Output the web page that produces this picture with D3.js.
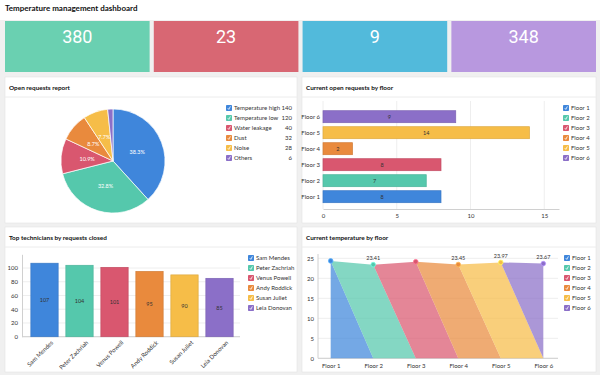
<!DOCTYPE html>
<html lang="en">
  <head>
    <meta charset="utf-8" />
    <title>Temperature management dashboard</title>
    <script src="https://cdn.jsdelivr.net/npm/d3@7"></script>
    <style type="text/css">
      body {
        margin: 0;
        background: #fff;
        font-family: Lato, "Open Sans", sans-serif;
      }
      text {
        fill: #333;
      }
      .axis path,
      .axis line {
        stroke: #d0d0d0;
      }
      .grid line {
        stroke: #eeeeee;
      }
    </style>
  </head>
  <body>
    <div id="chart"></div>
    <script type="text/javascript">
      /*******************************************
       * data
       *******************************************/
      const kpiValues = [380, 23, 9, 348];

      const pieLabels = ["Temperature high", "Temperature low", "Water leakage", "Dust", "Noise", "Others"];
      const pieValues = [140, 120, 40, 32, 28, 6];

      const floors = ["Floor 1", "Floor 2", "Floor 3", "Floor 4", "Floor 5", "Floor 6"];
      const openRequests = [8, 7, 8, 2, 14, 9];

      const technicians = ["Sam Mendes", "Peter Zachriah", "Venus Powell", "Andy Roddick", "Susan Juliet", "Leia Donovan"];
      const closedRequests = [107, 104, 101, 95, 90, 85];

      const temperatures = [24.35, 23.41, 24.15, 23.45, 23.97, 23.67];
      const labelledFloors = ["Floor 2", "Floor 4", "Floor 5", "Floor 6"];

      const hTicks = [0, 5, 10, 15];
      const vTicks = [0, 20, 40, 60, 80, 100];
      const tTicks = [0, 5, 10, 15, 20, 25];

      /*******************************************
       * svg
       *******************************************/
      const width = 600;
      const height = 375;
      const colors = ["#3f86db", "#55c8ac", "#d9576f", "#e98a3d", "#f6bd48", "#8b6fc8"];
      const kpiColors = ["#6ad0b1", "#d86773", "#52badb", "#b898df"];
      const tickFont = 6;

      const svg = d3.select("div#chart").append("svg")
        .attr("width", width)
        .attr("height", height)
        .style("display", "block");

      svg.append("rect").attr("width", width).attr("height", height).attr("fill", "#f0f0f0");
      svg.append("rect").attr("width", width).attr("height", 20).attr("fill", "#fff");

      svg.append("text")
        .attr("x", 5).attr("y", 11)
        .attr("font-size", 8).attr("font-weight", 700)
        .style("fill", "#111")
        .text("Temperature management dashboard");

      /*******************************************
       * kpi tiles
       *******************************************/
      const kpiX = d3.scaleBand().domain(d3.range(4)).range([5, 596]).paddingInner(0.028);
      const tiles = svg.selectAll("g.kpi").data(kpiValues).enter().append("g");
      tiles.append("rect")
        .attr("x", (d, i) => kpiX(i)).attr("y", 21)
        .attr("width", kpiX.bandwidth()).attr("height", 51)
        .attr("fill", (d, i) => kpiColors[i]);
      tiles.append("text")
        .attr("x", (d, i) => kpiX(i) + kpiX.bandwidth() / 2).attr("y", 43)
        .attr("text-anchor", "middle")
        .attr("font-size", 18)
        .attr("font-family", "Roboto, sans-serif")
        .style("fill", "#fff")
        .text((d) => d);

      /*******************************************
       * panels
       *******************************************/
      function panel(x, y, w, h, title) {
        const g = svg.append("g");
        g.append("rect").attr("x", x).attr("y", y).attr("width", w).attr("height", h)
          .attr("fill", "#fff").attr("stroke", "#e4e4e4").attr("stroke-width", 0.6);
        g.append("line").attr("x1", x).attr("x2", x + w).attr("y1", y + 20).attr("y2", y + 20)
          .attr("stroke", "#ececec").attr("stroke-width", 1);
        g.append("text").attr("x", x + 4).attr("y", y + 13)
          .attr("font-size", 6.4).attr("font-weight", 700).style("fill", "#111")
          .text(title);
      }
      panel(5, 77, 292, 146, "Open requests report");
      panel(302, 77, 294, 146, "Current open requests by floor");
      panel(5, 227, 292, 145, "Top technicians by requests closed");
      panel(302, 227, 294, 145, "Current temperature by floor");

      // legend with check boxes
      function legend(x, y, labels, values, valueX) {
        const g = svg.append("g");
        labels.forEach((label, i) => {
          const ly = y + i * 10;
          g.append("rect").attr("x", x).attr("y", ly - 3).attr("width", 6).attr("height", 6)
            .attr("rx", 0.8).attr("fill", colors[i]);
          g.append("path")
            .attr("d", `M${x + 1.8},${ly + 0.2} L${x + 2.8},${ly + 1.4} L${x + 4.4},${ly - 1.6}`)
            .attr("fill", "none").attr("stroke", "#fff").attr("stroke-width", 0.8);
          g.append("text").attr("x", x + 8).attr("y", ly + 2.1)
            .attr("font-size", tickFont).text(label);
          if (values) {
            g.append("text").attr("x", valueX).attr("y", ly + 2.1)
              .attr("font-size", tickFont).attr("text-anchor", "end").text(values[i]);
          }
        });
      }

      function styleTicks(g) {
        g.selectAll("text")
          .attr("font-size", tickFont)
          .attr("font-family", "Lato, sans-serif")
          .style("fill", "#333");
      }

      /*******************************************
       * pie
       *******************************************/
      const pieData = pieValues.map((v, i) => ({ label: pieLabels[i], value: v, i: i }));
      const pie = d3.pie().value((d) => d.value).sort(null);
      const radius = 52;
      const arc = d3.arc().innerRadius(0).outerRadius(radius);
      const total = d3.sum(pieValues);
      const pieG = svg.append("g").attr("transform", "translate(113, 161)");
      const arcs = pie(pieData);
      pieG.selectAll("path").data(arcs).enter().append("path")
        .attr("d", arc)
        .attr("fill", (d) => colors[d.data.i])
        .attr("stroke", "#fff").attr("stroke-width", 0.7);
      pieG.selectAll("text").data(arcs.filter((d) => d.data.value / total > 0.05)).enter().append("text")
        .attr("transform", (d) => `translate(${arc.centroid(d)})`)
        .attr("dy", 2)
        .attr("text-anchor", "middle")
        .attr("font-size", 5.5)
        .style("fill", "#fff")
        .text((d) => ((d.data.value / total) * 100).toFixed(1) + "%");

      legend(226, 108, pieLabels, pieValues, 292);

      /*******************************************
       * horizontal bars
       *******************************************/
      const hx = d3.scaleLinear().domain([0, 16]).range([323, 559]);
      const hy = d3.scaleBand().domain(floors).range([204.7, 108.7]).paddingInner(0.25).paddingOuter(0.125);

      svg.append("g").attr("class", "grid")
        .selectAll("line").data(hTicks).enter().append("line")
        .attr("x1", (d) => hx(d)).attr("x2", (d) => hx(d))
        .attr("y1", 101).attr("y2", 209);

      svg.append("g").attr("class", "axis")
        .attr("transform", "translate(0, 209)")
        .call(d3.axisBottom(hx).tickValues(hTicks).tickSize(0).tickPadding(5))
        .call(styleTicks);

      svg.append("g").attr("class", "axis")
        .attr("transform", "translate(323, 0)")
        .call(d3.axisLeft(hy).tickSize(0).tickPadding(3))
        .call((g) => g.select(".domain").remove())
        .call(styleTicks);

      const hbars = svg.append("g").selectAll("g").data(openRequests).enter().append("g");
      hbars.append("rect")
        .attr("x", hx(0))
        .attr("y", (d, i) => hy(floors[i]))
        .attr("width", (d) => hx(d) - hx(0))
        .attr("height", hy.bandwidth())
        .attr("fill", (d, i) => colors[i])
        .attr("stroke", (d, i) => d3.color(colors[i]).darker(0.3))
        .attr("stroke-width", 0.7);
      hbars.append("text")
        .attr("x", (d) => (hx(d) + hx(0)) / 2)
        .attr("y", (d, i) => hy(floors[i]) + hy.bandwidth() / 2 + 2)
        .attr("text-anchor", "middle")
        .attr("font-size", 5.5)
        .text((d) => d);

      legend(563, 108, floors);

      /*******************************************
       * vertical bars
       *******************************************/
      const vx = d3.scaleBand().domain(technicians).range([27, 237]).paddingInner(0.22).paddingOuter(0.11);
      const vy = d3.scaleLinear().domain([0, 120]).range([336.7, 254.3]);

      svg.append("g").attr("class", "grid")
        .selectAll("line").data(vTicks).enter().append("line")
        .attr("x1", 22).attr("x2", 240)
        .attr("y1", (d) => vy(d)).attr("y2", (d) => vy(d));

      svg.append("g").attr("class", "axis")
        .attr("transform", "translate(22, 0)")
        .call(d3.axisLeft(vy).tickValues(vTicks).tickSize(0).tickPadding(4))
        .call(styleTicks);

      svg.append("g").attr("class", "axis")
        .attr("transform", "translate(0, 336.7)")
        .call(d3.axisBottom(vx).tickSize(0).tickPadding(4))
        .call((g) => g.select(".domain").attr("d", "M22,0H240"))
        .call(styleTicks)
        .call((g) => g.selectAll("text")
          .attr("text-anchor", "end")
          .attr("dx", 2).attr("dy", 7)
          .attr("transform", "rotate(-45)"));

      const vbars = svg.append("g").selectAll("g").data(closedRequests).enter().append("g");
      vbars.append("rect")
        .attr("x", (d, i) => vx(technicians[i]))
        .attr("y", (d) => vy(d))
        .attr("width", vx.bandwidth())
        .attr("height", (d) => vy(0) - vy(d))
        .attr("fill", (d, i) => colors[i])
        .attr("stroke", (d, i) => d3.color(colors[i]).darker(0.3))
        .attr("stroke-width", 0.7);
      vbars.append("text")
        .attr("x", (d, i) => vx(technicians[i]) + vx.bandwidth() / 2)
        .attr("y", (d) => (vy(d) + vy(0)) / 2 + 2)
        .attr("text-anchor", "middle")
        .attr("font-size", 5.5)
        .text((d) => d);

      legend(248, 258, technicians);

      /*******************************************
       * temperature areas
       *******************************************/
      const tx = d3.scalePoint().domain(floors).range([330.7, 543.3]);
      const ty = d3.scaleLinear().domain([0, 25]).range([358.3, 258.3]);

      svg.append("g").attr("class", "grid")
        .selectAll("line").data(tTicks).enter().append("line")
        .attr("x1", 318).attr("x2", 558)
        .attr("y1", (d) => ty(d)).attr("y2", (d) => ty(d));

      svg.append("g").attr("class", "axis")
        .attr("transform", "translate(318, 0)")
        .call(d3.axisLeft(ty).tickValues(tTicks).tickSize(0).tickPadding(4))
        .call((g) => g.select(".domain").attr("d", "M0,254V358.3"))
        .call(styleTicks);

      svg.append("g").attr("class", "axis")
        .attr("transform", "translate(0, 358.3)")
        .call(d3.axisBottom(tx).tickSize(0).tickPadding(5))
        .call((g) => g.select(".domain").attr("d", "M318,0H558"))
        .call(styleTicks);

      // each floor's area: from previous floor's value, to its own value, down to the next floor's baseline
      const polyLine = d3.line();
      const areaG = svg.append("g");
      temperatures.forEach((t, i) => {
        const pts = [];
        if (i > 0) pts.push([tx(floors[i - 1]), ty(temperatures[i - 1])]);
        pts.push([tx(floors[i]), ty(t)]);
        if (i < floors.length - 1) pts.push([tx(floors[i + 1]), ty(0)]);
        pts.push([tx(floors[i]), ty(0)]);
        areaG.append("path")
          .attr("d", polyLine(pts) + "Z")
          .attr("fill", colors[i])
          .attr("fill-opacity", 0.72);
      });

      const tempPoints = temperatures.map((t, i) => ({ floor: floors[i], value: t, i: i }));

      areaG.selectAll("circle").data(tempPoints).enter().append("circle")
        .attr("cx", (d) => tx(d.floor))
        .attr("cy", (d) => ty(d.value))
        .attr("r", 2.3)
        .attr("fill", (d) => colors[d.i])
        .attr("stroke", (d) => d3.color(colors[d.i]).brighter(0.8))
        .attr("stroke-width", 0.8);

      areaG.selectAll("text").data(tempPoints.filter((d) => labelledFloors.includes(d.floor))).enter()
        .append("text")
        .attr("x", (d) => tx(d.floor))
        .attr("y", (d) => ty(d.value) - 4.5)
        .attr("text-anchor", "middle")
        .attr("font-size", 5.5)
        .text((d) => d.value.toFixed(2));

      legend(564, 258, floors);
    </script>
  </body>
</html>
